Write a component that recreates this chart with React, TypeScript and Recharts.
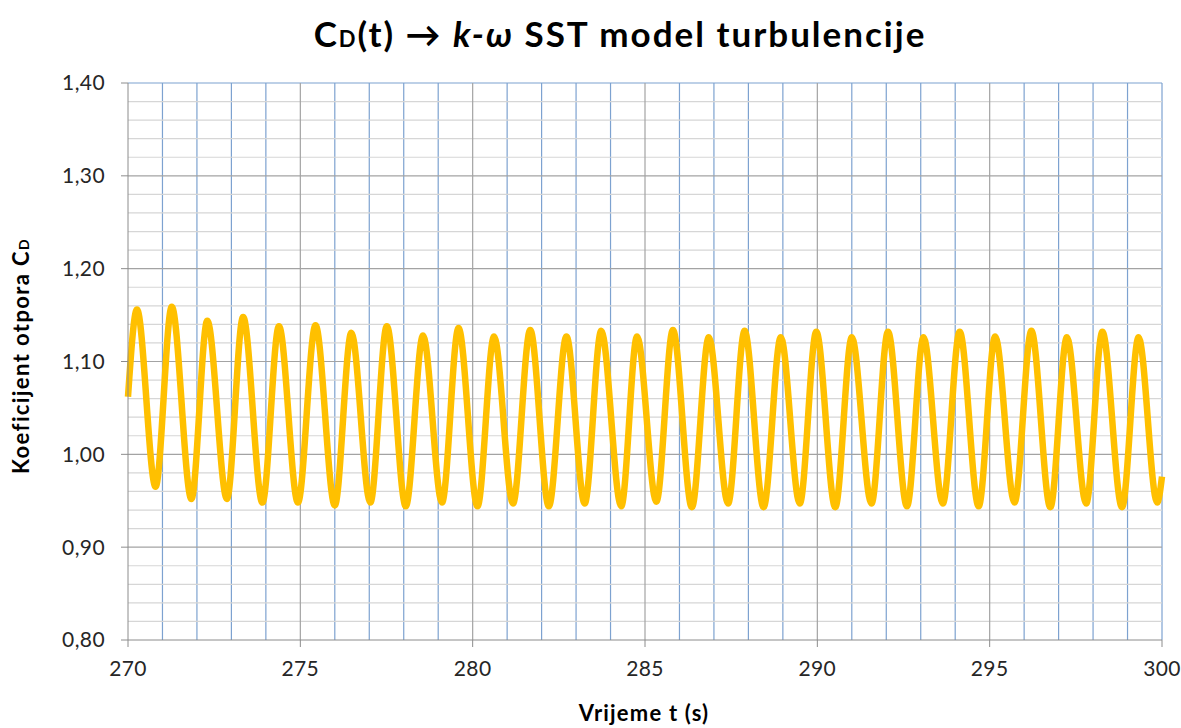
import React from 'react';
import {CartesianGrid, Line, LineChart, XAxis, YAxis} from 'recharts';

// extrema (time in s, drag coefficient)
const timeS = [
    270.0, 270.26, 270.80, 271.27, 271.84, 272.30, 272.87, 273.34, 273.90, 274.38,
    274.93, 275.44, 276.00, 276.48, 277.03, 277.51, 278.06, 278.56, 279.11, 279.59,
    280.14, 280.62, 281.17, 281.67, 282.21, 282.72, 283.25, 283.73, 284.31, 284.77,
    285.33, 285.81, 286.36, 286.85, 287.41, 287.89, 288.44, 288.94, 289.49, 289.97,
    290.52, 291.00, 291.57, 292.05, 292.60, 293.08, 293.64, 294.13, 294.68, 295.16,
    295.72, 296.21, 296.76, 297.24, 297.80, 298.27, 298.84, 299.32, 299.86, 300.0
];
const cdValues = [
    1.062, 1.156, 0.965, 1.159, 0.952, 1.144, 0.952, 1.148, 0.948, 1.138,
    0.948, 1.139, 0.945, 1.131, 0.948, 1.138, 0.944, 1.128, 0.948, 1.136,
    0.944, 1.127, 0.947, 1.134, 0.944, 1.127, 0.947, 1.133, 0.944, 1.127,
    0.949, 1.134, 0.943, 1.126, 0.947, 1.133, 0.943, 1.126, 0.947, 1.132,
    0.943, 1.126, 0.947, 1.132, 0.944, 1.126, 0.947, 1.132, 0.944, 1.127,
    0.948, 1.133, 0.943, 1.126, 0.947, 1.132, 0.943, 1.126, 0.948, 0.976
];

const xTicks = [270, 275, 280, 285, 290, 295, 300];
const xMinorGrid = [271, 272, 273, 274, 276, 277, 278, 279, 281, 282, 283, 284, 286, 287, 288, 289,
    291, 292, 293, 294, 296, 297, 298, 299, 300];
const xMajorGrid = [275, 280, 285, 290, 295];
const yTicks = [0.8, 0.9, 1.0, 1.1, 1.2, 1.3, 1.4];
const yMinorGrid = [0.82, 0.84, 0.86, 0.88, 0.92, 0.94, 0.96, 0.98, 1.02, 1.04, 1.06, 1.08,
    1.12, 1.14, 1.16, 1.18, 1.22, 1.24, 1.26, 1.28, 1.32, 1.34, 1.36, 1.38];
const yMajorGrid = [0.9, 1.0, 1.1, 1.2, 1.3];

const rows = timeS.map((t, i) => ({t, cd: cdValues[i]}));

const font = "Lato, 'DejaVu Sans', sans-serif";
const blue = '#7DA2D0';
const gray = '#A3A3A3';
const tickStyle = {fill: '#262626', fontSize: 21, fontFamily: font, letterSpacing: 0.4};

const App = () => {
    // fixed at the page corner so the body margin / scrollbar can't shift it
    return (
        <div style={{position: 'fixed', left: 0, top: 0, width: 1181, height: 728, background: '#fff'}}>
            <LineChart width={1181} height={728} data={rows}
                       margin={{top: 83, right: 19, left: 0, bottom: 48}}>
                <CartesianGrid horizontal={false} verticalValues={xMinorGrid} stroke={blue} strokeWidth={1.2}/>
                <CartesianGrid vertical={false} horizontalValues={yMinorGrid} stroke="#D6D6D6" strokeWidth={1.2}/>
                <CartesianGrid vertical={false} horizontalValues={[1.4]} stroke={blue} strokeWidth={1.2}/>
                <CartesianGrid horizontalValues={yMajorGrid} verticalValues={xMajorGrid} stroke={gray} strokeWidth={1.2}/>
                <XAxis
                    dataKey="t"
                    type="number"
                    domain={[270, 300]}
                    ticks={xTicks}
                    interval={0}
                    height={40}
                    tickSize={7}
                    tickMargin={14}
                    stroke="#8C8C8C"
                    tick={tickStyle}
                />
                <YAxis
                    type="number"
                    domain={[0.8, 1.4]}
                    ticks={yTicks}
                    interval={0}
                    width={128}
                    tickSize={7}
                    tickMargin={16}
                    stroke="#8C8C8C"
                    tickFormatter={(v) => v.toFixed(2).replace('.', ',')}
                    tick={tickStyle}
                />
                <Line
                    type="monotone"
                    dataKey="cd"
                    stroke="#FFC000"
                    strokeWidth={6.5}
                    dot={false}
                    activeDot={false}
                    isAnimationActive={false}
                />
            </LineChart>
            <svg width={1181} height={728}
                 style={{position: 'absolute', left: 0, top: 0, pointerEvents: 'none'}}>
                <text x={620} y={47} textAnchor="middle" fontFamily={font} fontWeight="bold"
                      fontSize={35} letterSpacing={2} fill="#000">
                    C<tspan fontSize={22}>D</tspan>(t) → <tspan fontStyle="italic">k-ω</tspan> SST model turbulencije
                </text>
                <text x={644} y={721} textAnchor="middle" fontFamily={font} fontWeight="bold"
                      fontSize={22} letterSpacing={1.2} fill="#000">
                    Vrijeme t (s)
                </text>
                <text transform="translate(29,356) rotate(-90)" textAnchor="middle" fontFamily={font}
                      fontWeight="bold" fontSize={22} letterSpacing={1.4} fill="#000">
                    Koeficijent otpora C<tspan fontSize={14}>D</tspan>
                </text>
            </svg>
        </div>
    );
};

export default App;
